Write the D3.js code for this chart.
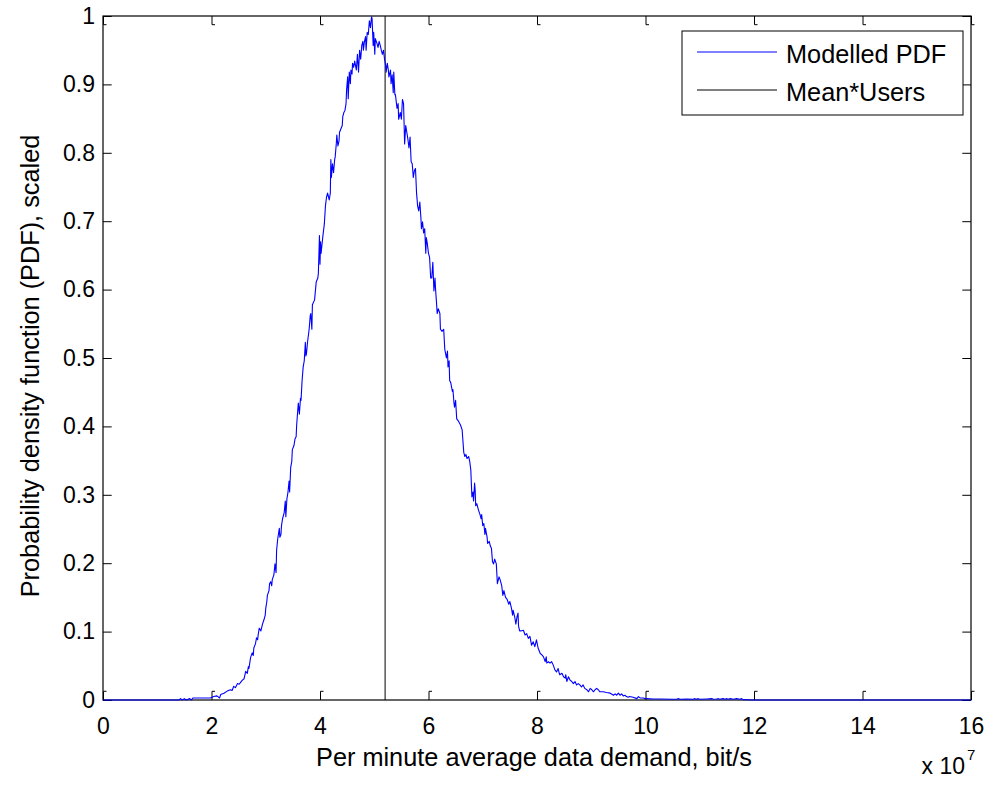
<!DOCTYPE html>
<html>
<head>
<meta charset="utf-8">
<script src="https://cdn.jsdelivr.net/npm/d3@7"></script>
<style>
  html, body { margin: 0; padding: 0; background: #ffffff; }
  svg { display: block; }
  text { font-family: "Liberation Sans", Arial, Helvetica, sans-serif; fill: #000; }
</style>
</head>
<body>
<svg id="chart" width="990" height="785"></svg>
<script>
// ---- data (x in units of 1e7 bit/s, y = scaled PDF) ----
const pdfX = [0,1.40,1.43,1.46,1.50,1.53,1.60,1.63,1.66,1.98,2.04,2.10,2.15,2.17,2.23,2.29,2.35,2.38,2.41,2.44,2.48,2.51,2.54,2.57,2.60,2.63,2.66,2.68,2.69,2.72,2.75,2.77,2.78,2.81,2.83,2.85,2.86,2.88,2.91,2.94,2.97,2.99,3.00,3.02,3.03,3.06,3.07,3.09,3.11,3.12,3.15,3.17,3.19,3.20,3.22,3.25,3.26,3.28,3.29,3.31,3.34,3.36,3.37,3.39,3.41,3.43,3.44,3.46,3.48,3.49,3.52,3.54,3.56,3.57,3.60,3.62,3.64,3.65,3.67,3.69,3.71,3.73,3.74,3.75,3.77,3.80,3.82,3.83,3.85,3.86,3.90,3.93,3.96,3.97,3.99,4.00,4.01,4.02,4.05,4.08,4.10,4.12,4.14,4.17,4.19,4.20,4.21,4.22,4.23,4.25,4.27,4.28,4.30,4.31,4.33,4.35,4.36,4.39,4.41,4.42,4.44,4.46,4.48,4.49,4.51,4.52,4.54,4.56,4.57,4.59,4.60,4.62,4.64,4.67,4.69,4.71,4.73,4.75,4.77,4.79,4.80,4.82,4.84,4.85,4.87,4.89,4.91,4.93,4.95,4.96,4.98,4.99,5.01,5.02,5.05,5.07,5.09,5.11,5.13,5.15,5.17,5.19,5.21,5.22,5.24,5.26,5.27,5.30,5.31,5.33,5.35,5.36,5.38,5.39,5.42,5.44,5.45,5.48,5.50,5.52,5.54,5.56,5.58,5.60,5.62,5.64,5.66,5.68,5.70,5.72,5.74,5.76,5.78,5.80,5.82,5.84,5.86,5.87,5.89,5.91,5.93,5.95,5.96,5.98,6.00,6.02,6.04,6.06,6.08,6.10,6.12,6.13,6.15,6.16,6.18,6.21,6.22,6.25,6.28,6.30,6.33,6.35,6.36,6.38,6.39,6.41,6.44,6.45,6.47,6.48,6.50,6.52,6.55,6.57,6.59,6.62,6.65,6.67,6.69,6.71,6.74,6.76,6.78,6.80,6.82,6.83,6.85,6.86,6.87,6.89,6.92,6.95,6.97,6.98,7.00,7.02,7.04,7.05,7.08,7.09,7.12,7.14,7.16,7.18,7.20,7.22,7.25,7.27,7.30,7.32,7.35,7.37,7.39,7.42,7.45,7.48,7.50,7.53,7.55,7.56,7.59,7.61,7.63,7.65,7.66,7.68,7.70,7.75,7.78,7.81,7.84,7.87,7.90,7.93,7.96,7.99,8.02,8.06,8.09,8.12,8.15,8.17,8.18,8.21,8.24,8.27,8.30,8.33,8.36,8.39,8.41,8.42,8.46,8.49,8.52,8.53,8.55,8.58,8.61,8.64,8.67,8.70,8.73,8.76,8.79,8.82,8.85,8.88,8.92,8.95,8.98,9.01,9.04,9.07,9.10,9.13,9.16,9.22,9.28,9.35,9.41,9.44,9.47,9.50,9.53,9.56,9.59,9.62,9.65,9.68,9.71,9.77,9.84,9.87,9.90,9.96,9.99,10.02,10.14,10.27,10.51,10.57,10.60,10.64,10.76,10.88,10.91,10.94,10.97,11.00,11.13,11.22,11.25,11.31,11.34,11.37,11.43,11.47,11.49,11.53,11.56,11.62,11.68,11.74,11.77,11.80,11.98,16];
const pdfY = [0,0,0.002,0,0.002,0,0.002,0,0.003,0.003,0.005,0.006,0.003,0.008,0.010,0.013,0.015,0.014,0.020,0.018,0.024,0.023,0.026,0.029,0.031,0.042,0.039,0.049,0.046,0.062,0.069,0.065,0.076,0.082,0.091,0.088,0.095,0.105,0.101,0.111,0.118,0.124,0.134,0.144,0.153,0.160,0.170,0.173,0.167,0.176,0.183,0.199,0.186,0.219,0.235,0.251,0.238,0.242,0.255,0.265,0.274,0.291,0.268,0.294,0.304,0.320,0.304,0.340,0.349,0.366,0.372,0.382,0.385,0.402,0.434,0.418,0.441,0.438,0.467,0.487,0.496,0.523,0.503,0.506,0.523,0.542,0.562,0.565,0.542,0.578,0.585,0.611,0.617,0.624,0.679,0.637,0.670,0.653,0.676,0.696,0.722,0.735,0.741,0.731,0.741,0.790,0.764,0.774,0.784,0.771,0.790,0.794,0.813,0.826,0.810,0.817,0.830,0.836,0.840,0.853,0.859,0.862,0.872,0.892,0.911,0.879,0.918,0.901,0.921,0.915,0.931,0.925,0.934,0.921,0.944,0.918,0.950,0.937,0.957,0.963,0.950,0.963,0.970,0.950,0.976,0.973,0.993,0.983,0.999,0.996,0.957,0.976,0.944,0.967,0.960,0.954,0.963,0.957,0.950,0.944,0.950,0.937,0.928,0.918,0.931,0.921,0.911,0.921,0.901,0.914,0.888,0.918,0.885,0.885,0.865,0.872,0.849,0.859,0.849,0.878,0.872,0.813,0.840,0.830,0.820,0.807,0.823,0.787,0.784,0.764,0.774,0.777,0.741,0.722,0.715,0.728,0.705,0.689,0.699,0.683,0.689,0.653,0.676,0.666,0.653,0.647,0.617,0.617,0.640,0.598,0.617,0.601,0.578,0.565,0.572,0.565,0.542,0.539,0.542,0.513,0.500,0.510,0.487,0.496,0.467,0.464,0.451,0.454,0.434,0.428,0.438,0.411,0.408,0.405,0.402,0.395,0.362,0.356,0.359,0.353,0.356,0.349,0.336,0.297,0.304,0.291,0.317,0.307,0.284,0.287,0.278,0.271,0.265,0.271,0.255,0.258,0.242,0.251,0.238,0.229,0.232,0.225,0.222,0.202,0.199,0.206,0.199,0.170,0.180,0.176,0.167,0.153,0.160,0.150,0.147,0.140,0.144,0.134,0.124,0.131,0.121,0.111,0.121,0.127,0.108,0.101,0.101,0.102,0.095,0.097,0.090,0.093,0.080,0.085,0.078,0.088,0.076,0.068,0.066,0.063,0.056,0.063,0.054,0.056,0.054,0.056,0.051,0.044,0.041,0.046,0.039,0.037,0.039,0.034,0.032,0.037,0.027,0.034,0.029,0.027,0.024,0.027,0.022,0.024,0.022,0.019,0.022,0.017,0.015,0.012,0.017,0.015,0.012,0.015,0.017,0.015,0.012,0.012,0.011,0.010,0.007,0.009,0.007,0.010,0.007,0.009,0.006,0.007,0.005,0.004,0.005,0.004,0.002,0.005,0.003,0.003,0.002,0.002,0.0015,0.0015,0.001,0.001,0.002,0.001,0.0015,0.001,0.002,0.001,0.002,0.001,0.0015,0.002,0.001,0.0015,0.002,0.001,0.002,0.001,0.002,0.001,0.002,0.001,0.002,0.001,0.002,0.0005,0,0];
const meanUsers = 5.2;          // Mean*Users, x 1e7
const xTicks = [0,2,4,6,8,10,12,14,16];
const yTicks = [0,0.1,0.2,0.3,0.4,0.5,0.6,0.7,0.8,0.9,1];
const xDomain = [0,16];
const yDomain = [0,1];
const seriesNames = ["Modelled PDF","Mean*Users"];
const seriesColors = ["#0000ff","#000000"];
const xLabel = "Per minute average data demand, bit/s";
const yLabel = "Probability density function (PDF), scaled";

// ---- layout ----
const L = 103, R = 971, T = 16, B = 700;
const tickLen = 8.7;
const tickFont = 23, labelFont = 25.3;

const svg = d3.select("#chart");
svg.append("rect").attr("width",990).attr("height",785).attr("fill","#fff");

const x = d3.scaleLinear().domain(xDomain).range([L,R]);
const y = d3.scaleLinear().domain(yDomain).range([B,T]);

// axes
const gx = svg.append("g").attr("transform",`translate(0,${B})`)
  .call(d3.axisBottom(x).tickValues(xTicks).tickSizeInner(-tickLen).tickSizeOuter(0).tickPadding(17.2).tickFormat(d3.format("d")));
const gxt = svg.append("g").attr("transform",`translate(0,${T})`)
  .call(d3.axisTop(x).tickValues(xTicks).tickSizeInner(-tickLen).tickSizeOuter(0).tickFormat(""));
const gy = svg.append("g").attr("transform",`translate(${L},0)`)
  .call(d3.axisLeft(y).tickValues(yTicks).tickSizeInner(-tickLen).tickSizeOuter(0).tickPadding(8).tickFormat(d => d3.format("")(+d.toFixed(1))));
const gyr = svg.append("g").attr("transform",`translate(${R},0)`)
  .call(d3.axisRight(y).tickValues(yTicks).tickSizeInner(-tickLen).tickSizeOuter(0).tickFormat(""));

[gx,gxt,gy,gyr].forEach(g => {
  g.selectAll("path.domain").remove();
  g.selectAll(".tick line").attr("stroke","#000").attr("stroke-width",1);
  g.selectAll("text").attr("font-size",tickFont).attr("fill","#000")
    .style("font-family",'"Liberation Sans", Arial, sans-serif');
});
// small hooks on x ticks (as rendered in the original)
gx.selectAll(".tick").append("line").attr("x1",0).attr("x2",3).attr("y1",-tickLen).attr("y2",-tickLen).attr("stroke","#000");
gxt.selectAll(".tick").append("line").attr("x1",0).attr("x2",3).attr("y1",tickLen).attr("y2",tickLen).attr("stroke","#000");

// box
svg.append("rect").attr("x",L).attr("y",T).attr("width",R-L).attr("height",B-T)
  .attr("fill","none").attr("stroke","#000").attr("stroke-width",1.2);

// mean line
svg.append("line").attr("x1",x(meanUsers)).attr("x2",x(meanUsers)).attr("y1",y(0)).attr("y2",y(1))
  .attr("stroke",seriesColors[1]).attr("stroke-width",1);

// pdf curve
const pts = pdfX.map((v,i)=>[v,pdfY[i]]);
svg.append("path").datum(pts)
  .attr("d", d3.line().x(d=>x(d[0])).y(d=>y(d[1])))
  .attr("fill","none").attr("stroke",seriesColors[0]).attr("stroke-width",1.1).attr("stroke-linejoin","round");

// labels
svg.append("text").attr("x",(L+R)/2 - 3).attr("y",766).attr("text-anchor","middle")
  .attr("font-size",labelFont).text(xLabel);
svg.append("text").attr("transform",`translate(39,${(T+B)/2 + 8}) rotate(-90)`).attr("text-anchor","middle")
  .attr("font-size",labelFont).text(yLabel);
// exponent
svg.append("text").attr("x",965).attr("y",774).attr("text-anchor","end").attr("font-size",tickFont).text("x 10");
svg.append("text").attr("x",967).attr("y",760).attr("font-size",15).text("7");

// legend
const lg = svg.append("g");
lg.append("rect").attr("x",682).attr("y",31).attr("width",281).attr("height",84)
  .attr("fill","#fff").attr("stroke","#000").attr("stroke-width",1);
const legendRows = [52, 90];
seriesNames.forEach((n,i) => {
  lg.append("line").attr("x1",697).attr("x2",777).attr("y1",legendRows[i]).attr("y2",legendRows[i])
    .attr("stroke",seriesColors[i]).attr("stroke-width",1);
  lg.append("text").attr("x",786).attr("y",legendRows[i]+10.5).attr("font-size",labelFont).text(n);
});
</script>
</body>
</html>
